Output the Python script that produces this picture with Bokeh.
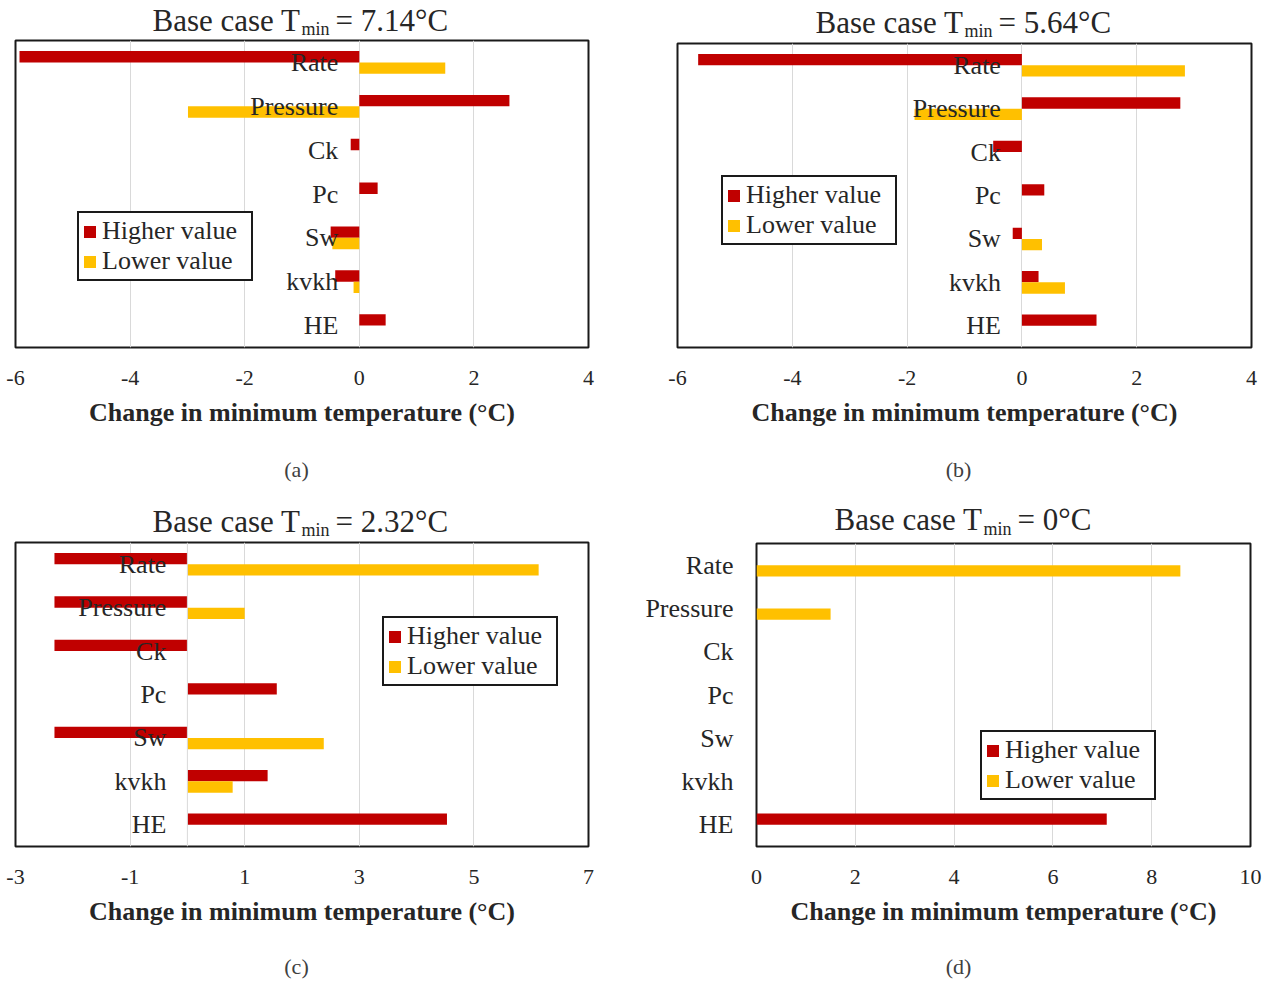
from bokeh.plotting import figure
from bokeh.models import (Range1d, FactorRange, FixedTicker, Legend, LegendItem,
                          ColumnDataSource, Span, NumeralTickFormatter)
from bokeh.transform import dodge
from bokeh.layouts import column, row
from bokeh.core.properties import value
from bokeh.embed import file_html
from bokeh.resources import INLINE

# ---------------- data ----------------
categories = ["Rate", "Pressure", "Ck", "Pc", "Sw", "kvkh", "HE"]
series_names = ["Higher value", "Lower value"]

a_tmin = "7.14"
a_higher = [-5.93, 2.62, -0.15, 0.32, -0.50, -0.42, 0.46]
a_lower = [1.50, -2.99, 0.0, 0.0, -0.47, -0.10, 0.0]
a_ticks = [-6, -4, -2, 0, 2, 4]

b_tmin = "5.64"
b_higher = [-5.64, 2.76, -0.50, 0.39, -0.16, 0.29, 1.30]
b_lower = [2.84, -1.87, 0.0, 0.0, 0.35, 0.75, 0.0]
b_ticks = [-6, -4, -2, 0, 2, 4]

c_tmin = "2.32"
c_higher = [-2.32, -2.32, -2.32, 1.56, -2.32, 1.40, 4.53]
c_lower = [6.13, 1.00, 0.0, 0.0, 2.38, 0.79, 0.0]
c_ticks = [-3, -1, 1, 3, 5, 7]

d_tmin = "0"
d_higher = [0.0, 0.0, 0.0, 0.0, 0.0, 0.0, 7.09]
d_lower = [8.58, 1.50, 0.0, 0.0, 0.0, 0.0, 0.0]
d_ticks = [0, 2, 4, 6, 8, 10]

panel_letters = ["(a)", "(b)", "(c)", "(d)"]
x_label = "Change in minimum temperature (\u00b0C)"

RED = "#C00000"
YEL = "#FFC000"
FONT = "Liberation Serif"
TXT = "#262626"

MAIN_PX = 31
SUB_PX = 18
W_BASE = 4.776 * MAIN_PX     # advance width of "Base case T" (Times metrics)
W_MIN = 1.556 * SUB_PX       # advance width of "min"


def strip(w, h, fl, fr):
    # the strip's frame is aligned with the chart frame below it in the column,
    # so its x range is expressed in page pixels between the frame edges
    s = figure(width=w, height=h, output_backend="svg", toolbar_location=None,
               x_range=Range1d(fl, fr), y_range=Range1d(0, h), title=None,
               x_axis_location=None, y_axis_location=None,
               min_border=0, outline_line_color=None)
    s.grid.visible = False
    return s


def title_strip(tmin, w, h, fl, fr, x0, base):
    """Chart title 'Base case T_min = x°C' drawn as text with a subscript."""
    t = strip(w, h, fl, fr)
    main_mid = base + 0.3375 * MAIN_PX
    sub_mid = base - 5 + 0.3375 * SUB_PX
    t.text(x=[x0], y=[main_mid], text=["Base case T"], text_align="left",
           text_baseline="middle", text_font=value(FONT), text_font_size=f"{MAIN_PX}px",
           text_color=TXT)
    t.text(x=[x0 + W_BASE + 1], y=[sub_mid], text=["min"], text_align="left",
           text_baseline="middle", text_font=value(FONT), text_font_size=f"{SUB_PX}px",
           text_color=TXT)
    t.text(x=[x0 + W_BASE + W_MIN + 7], y=[main_mid], text=["= " + tmin + "\u00b0C"],
           text_align="left", text_baseline="middle", text_font=value(FONT),
           text_font_size=f"{MAIN_PX}px", text_color=TXT)
    return t


def letter_strip(letter, w, h, fl, fr, xc, yc):
    s = strip(w, h, fl, fr)
    s.text(x=[xc], y=[yc], text=[letter], text_align="center", text_baseline="middle",
           text_font=value(FONT), text_font_size="22px", text_color="#404040")
    return s


def make_panel(higher, lower, ticks, fig_w, fig_h, borders, legend_loc, cat_axis=False):
    left, right, top, bottom = borders
    p = figure(width=fig_w, height=fig_h, output_backend="svg", toolbar_location=None,
               title=None,
               x_range=Range1d(ticks[0], ticks[-1]),
               y_range=FactorRange(factors=categories[::-1]),
               y_axis_location="left" if cat_axis else None,
               min_border_left=left, min_border_right=right,
               min_border_top=top, min_border_bottom=bottom,
               background_fill_color="white", border_fill_color="white")
    p.outline_line_color = "#1a1a1a"
    p.outline_line_width = 2

    src = ColumnDataSource(dict(cat=categories, high=higher, low=lower))
    r_hi = p.hbar(y=dodge("cat", 0.13, range=p.y_range), left=0, right="high", height=0.26,
                  source=src, fill_color=RED, line_color=None)
    r_lo = p.hbar(y=dodge("cat", -0.13, range=p.y_range), left=0, right="low", height=0.26,
                  source=src, fill_color=YEL, line_color=None)

    ax = p.xaxis[0]
    ax.ticker = FixedTicker(ticks=ticks)
    ax.formatter = NumeralTickFormatter(format="0")
    ax.axis_line_color = None
    ax.major_tick_line_color = None
    ax.minor_tick_line_color = None
    ax.major_label_text_font = FONT
    ax.major_label_text_font_size = "22px"
    ax.major_label_text_color = TXT
    ax.major_label_standoff = 17
    ax.axis_label = x_label
    ax.axis_label_text_font = FONT
    ax.axis_label_text_font_size = "26px"
    ax.axis_label_text_font_style = "bold"
    ax.axis_label_text_color = TXT
    ax.axis_label_standoff = 10

    p.xgrid.ticker = FixedTicker(ticks=ticks)
    p.xgrid.grid_line_color = "#d9d9d9"
    p.xgrid.grid_line_width = 1
    p.ygrid.visible = False

    if cat_axis:
        ya = p.yaxis[0]
        ya.axis_line_color = None
        ya.major_tick_line_color = None
        ya.minor_tick_line_color = None
        ya.major_label_text_font = FONT
        ya.major_label_text_font_size = "26px"
        ya.major_label_text_color = TXT
        ya.major_label_standoff = 17
    else:
        if 0 not in ticks:
            p.add_layout(Span(location=0, dimension="height", line_color="#d9d9d9",
                              line_width=1))
        p.text(x=0, y="cat", text="cat", source=src, x_offset=-21,
               text_align="right", text_baseline="middle",
               text_font=value(FONT), text_font_size="26px", text_color=TXT)

    legend = Legend(items=[LegendItem(label=series_names[0], renderers=[r_hi]),
                           LegendItem(label=series_names[1], renderers=[r_lo])],
                    location=legend_loc)
    legend.label_text_font = FONT
    legend.label_text_font_size = "26px"
    legend.label_text_color = TXT
    legend.glyph_width = 15
    legend.glyph_height = 15
    legend.label_standoff = 5
    legend.label_width = 146
    legend.padding = 3
    legend.spacing = 0
    legend.margin = 0
    legend.border_line_color = "#1a1a1a"
    legend.border_line_width = 2
    legend.border_line_alpha = 1.0
    legend.background_fill_color = "white"
    legend.background_fill_alpha = 1.0
    p.add_layout(legend)
    return p


WL, WR = 634, 635

col_a = column(title_strip(a_tmin, WL, 39, 15, 588, 152, 9),
               make_panel(a_higher, a_lower, a_ticks, WL, 408, (15, 46, 1, 100), (62, 66)),
               letter_strip(panel_letters[0], WL, 51, 15, 588, 296, 29))
col_b = column(title_strip(b_tmin, WR, 42, 677, 1251, 815, 10),
               make_panel(b_higher, b_lower, b_ticks, WR, 405, (43, 18, 1, 100), (44, 102)),
               letter_strip(panel_letters[1], WR, 51, 677, 1251, 958, 29))
col_c = column(title_strip(c_tmin, WL, 43, 15, 588, 152, 10),
               make_panel(c_higher, c_lower, c_ticks, WL, 405, (15, 46, 1, 100), (367, 160)),
               letter_strip(panel_letters[2], WL, 38, 15, 588, 296, 18))
col_d = column(title_strip(d_tmin, WR, 44, 756, 1250, 834, 12.5),
               make_panel(d_higher, d_lower, d_ticks, WR, 404, (122, 19, 1, 100), (224, 46),
                          cat_axis=True),
               letter_strip(panel_letters[3], WR, 38, 756, 1250, 958, 18))

layout = column(row(col_a, col_b), row(col_c, col_d))

open("out.html", "w").write(file_html(layout, INLINE))
